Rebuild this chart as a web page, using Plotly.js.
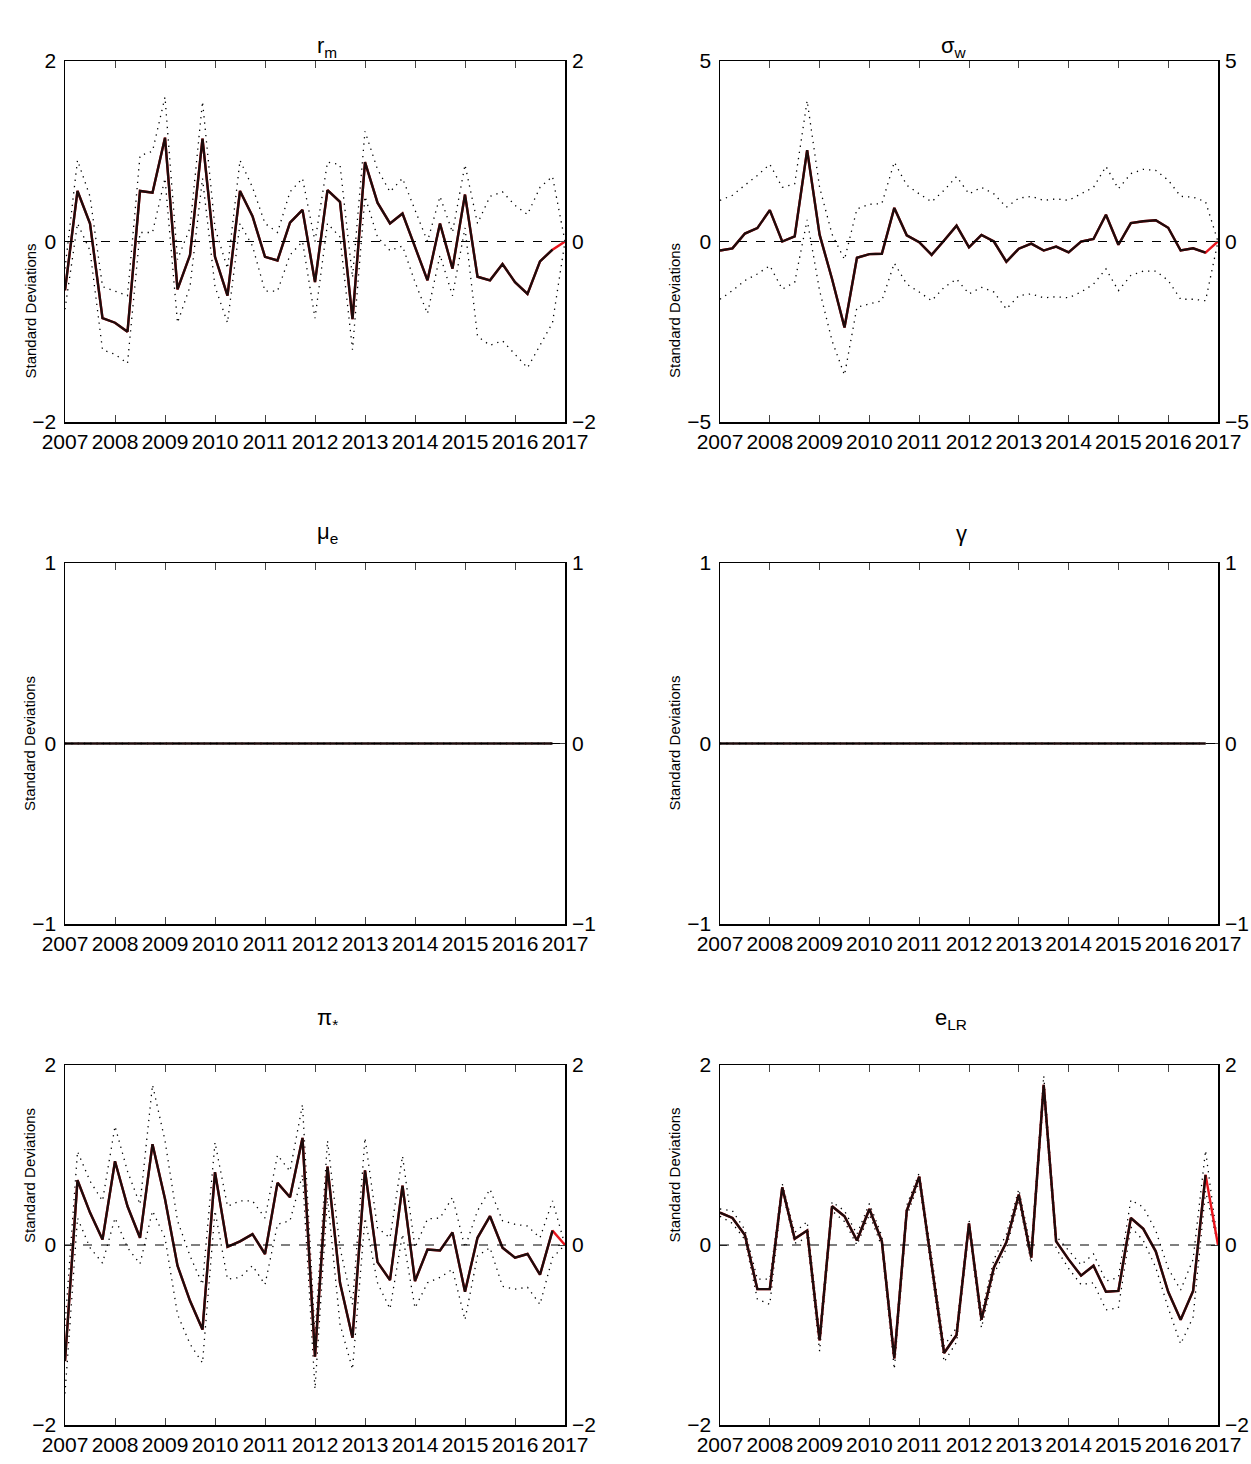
<!DOCTYPE html>
<html>
<head>
<meta charset="utf-8">
<script src="https://cdn.plot.ly/plotly-3.0.1.min.js"></script>
<style>body{margin:0;background:#fff}#chart{width:1251px;height:1464px}</style>
</head>
<body>
<div id="chart"></div>
<script>
// quarterly observations 2007Q1 .. 2017Q1
const yearTicks = [2007, 2008, 2009, 2010, 2011, 2012, 2013, 2014, 2015, 2016, 2017];

const rmMed = [-0.54, 0.56, 0.2, -0.85, -0.9, -1.0, 0.56, 0.54, 1.15, -0.53, -0.15, 1.14, -0.17, -0.6, 0.56, 0.28, -0.17, -0.21, 0.21, 0.35, -0.45, 0.57, 0.44, -0.86, 0.88, 0.43, 0.2, 0.31, -0.06, -0.43, 0.2, -0.3, 0.52, -0.39, -0.43, -0.25, -0.45, -0.58, -0.22, -0.09, 0];
const rmUp = [-0.3, 0.9, 0.5, -0.5, -0.55, -0.6, 0.95, 1.0, 1.6, -0.2, 0.15, 1.55, 0.15, -0.3, 0.9, 0.6, 0.2, 0.1, 0.55, 0.7, 0.0, 0.88, 0.85, -0.4, 1.22, 0.8, 0.55, 0.7, 0.35, 0.0, 0.5, 0.1, 0.85, 0.2, 0.5, 0.55, 0.4, 0.3, 0.6, 0.72, 0];
const rmLo = [-0.75, 0.2, -0.1, -1.2, -1.25, -1.35, 0.1, 0.1, 0.7, -0.9, -0.5, 0.7, -0.5, -0.9, 0.2, -0.05, -0.55, -0.55, -0.15, 0.0, -0.85, 0.2, 0.05, -1.2, 0.5, 0.05, -0.1, -0.05, -0.45, -0.8, -0.15, -0.6, 0.15, -1.05, -1.15, -1.1, -1.25, -1.4, -1.15, -0.9, 0];

const swMed = [-0.25, -0.19, 0.22, 0.37, 0.87, 0, 0.14, 2.53, 0.19, -1.04, -2.38, -0.45, -0.35, -0.34, 0.93, 0.17, -0.02, -0.37, 0.03, 0.44, -0.16, 0.18, 0, -0.56, -0.2, -0.06, -0.25, -0.14, -0.3, 0, 0.07, 0.74, -0.09, 0.51, 0.56, 0.59, 0.38, -0.25, -0.19, -0.31, 0];
const swUp = [1.14, 1.28, 1.56, 1.83, 2.14, 1.5, 1.6, 3.9, 1.5, 0.2, -0.5, 0.9, 1.03, 1.05, 2.2, 1.56, 1.32, 1.1, 1.42, 1.8, 1.32, 1.5, 1.32, 0.95, 1.2, 1.25, 1.14, 1.18, 1.14, 1.32, 1.5, 2.08, 1.46, 1.88, 2.0, 1.97, 1.7, 1.25, 1.23, 1.1, 0];
const swLo = [-1.6, -1.36, -1.08, -0.9, -0.67, -1.32, -1.13, 0.6, -1.36, -2.75, -3.7, -1.82, -1.73, -1.64, -0.6, -1.18, -1.4, -1.64, -1.27, -1.04, -1.45, -1.27, -1.4, -1.87, -1.5, -1.45, -1.56, -1.53, -1.56, -1.4, -1.18, -0.76, -1.36, -0.94, -0.82, -0.82, -1.08, -1.6, -1.6, -1.64, 0];

// zero-valued series for the two flat parameters, 2007Q1 .. 2016Q4
const flatZero = [0, 0, 0, 0, 0, 0, 0, 0, 0, 0, 0, 0, 0, 0, 0, 0, 0, 0, 0, 0, 0, 0, 0, 0, 0, 0, 0, 0, 0, 0, 0, 0, 0, 0, 0, 0, 0, 0, 0, 0];

const piMed = [-1.29, 0.72, 0.36, 0.06, 0.93, 0.43, 0.08, 1.12, 0.51, -0.23, -0.62, -0.94, 0.81, -0.02, 0.04, 0.12, -0.1, 0.69, 0.53, 1.19, -1.24, 0.87, -0.42, -1.03, 0.83, -0.19, -0.39, 0.66, -0.4, -0.05, -0.06, 0.14, -0.52, 0.08, 0.32, -0.03, -0.14, -0.1, -0.33, 0.16, 0];
const piUp = [-0.9, 1.04, 0.71, 0.49, 1.32, 0.82, 0.45, 1.78, 1.16, 0.27, -0.12, -0.44, 1.14, 0.43, 0.49, 0.49, 0.3, 1.0, 0.82, 1.56, -1.0, 1.16, -0.03, -0.66, 1.19, 0.19, 0.08, 0.99, -0.03, 0.29, 0.3, 0.53, -0.03, 0.38, 0.62, 0.27, 0.23, 0.21, 0.08, 0.49, 0];
const piLo = [-1.65, 0.3, -0.03, -0.2, 0.3, -0.03, -0.21, 0.38, 0.08, -0.77, -1.1, -1.31, 0.38, -0.38, -0.36, -0.23, -0.44, 0.23, 0.27, 0.78, -1.6, 0.53, -0.88, -1.38, 0.3, -0.42, -0.71, 0.12, -0.7, -0.42, -0.36, -0.27, -0.83, -0.12, -0.03, -0.46, -0.49, -0.47, -0.66, -0.14, 0];

const eMed = [0.36, 0.3, 0.11, -0.49, -0.49, 0.64, 0.07, 0.16, -1.06, 0.43, 0.32, 0.05, 0.4, 0.04, -1.26, 0.38, 0.76, -0.21, -1.2, -1.0, 0.24, -0.83, -0.25, 0.03, 0.56, -0.14, 1.78, 0.04, -0.16, -0.34, -0.23, -0.52, -0.51, 0.3, 0.18, -0.07, -0.52, -0.83, -0.51, 0.78, 0];
const eUp = [0.4, 0.38, 0.17, -0.38, -0.38, 0.68, 0.14, 0.26, -0.98, 0.48, 0.38, 0.12, 0.46, 0.1, -1.2, 0.44, 0.8, -0.12, -1.12, -0.92, 0.28, -0.76, -0.16, 0.12, 0.62, -0.05, 1.88, 0.1, -0.06, -0.22, -0.1, -0.4, -0.36, 0.5, 0.42, 0.16, -0.26, -0.5, -0.16, 1.05, 0];
const eLo = [0.32, 0.24, 0.06, -0.6, -0.66, 0.6, 0.02, 0.08, -1.18, 0.38, 0.26, 0.0, 0.34, -0.02, -1.38, 0.32, 0.7, -0.3, -1.3, -1.08, 0.18, -0.92, -0.32, -0.04, 0.5, -0.2, 1.68, -0.04, -0.26, -0.44, -0.42, -0.72, -0.7, 0.2, 0.05, -0.25, -0.7, -1.1, -0.8, 0.6, 0];

const panels = [
  {title: "r<sub>m</sub>", med: rmMed, up: rmUp, lo: rmLo, ticks: [-2, 0, 2], redTail: true},
  {title: "σ<sub>w</sub>", med: swMed, up: swUp, lo: swLo, ticks: [-5, 0, 5], redTail: true},
  {title: "μ<sub>e</sub>", med: flatZero, up: flatZero, lo: flatZero, ticks: [-1, 0, 1], redTail: false},
  {title: "γ", med: flatZero, up: flatZero, lo: flatZero, ticks: [-1, 0, 1], redTail: false},
  {title: "π<sub>*</sub>", med: piMed, up: piUp, lo: piLo, ticks: [-2, 0, 2], redTail: true},
  {title: "e<sub>LR</sub>", med: eMed, up: eUp, lo: eLo, ticks: [-2, 0, 2], redTail: true}
];

const W = 1251, H = 1464;
const colPx = [[65, 565], [720, 1218]];
const rowPx = [[61, 422], [563, 924], [1065, 1425]];
const font = "Liberation Sans, Arial, sans-serif";
const tickFont = {family: font, size: 21, color: "#000"};

const traces = [];
const layout = {
  width: W, height: H, margin: {l: 0, r: 0, t: 0, b: 0},
  paper_bgcolor: "#fff", plot_bgcolor: "#fff", showlegend: false,
  shapes: [], annotations: []
};

panels.forEach((p, i) => {
  const col = i % 2, row = Math.floor(i / 2);
  const n = i + 1, nr = i + 7;
  const xa = "x" + n, ya = "y" + n;
  const xs = p.med.map((_, k) => 2007 + k / 4);
  const yr = [p.ticks[0], p.ticks[2]];
  const dom = [1 - rowPx[row][1] / H, 1 - rowPx[row][0] / H];

  const dots = {color: "#000", width: 1.3, dash: "1.3px,5px"};
  traces.push({x: xs, y: p.up, xaxis: xa, yaxis: ya, mode: "lines", line: dots});
  traces.push({x: xs, y: p.lo, xaxis: xa, yaxis: ya, mode: "lines", line: dots});
  if (p.redTail) {
    traces.push({x: xs, y: p.med, xaxis: xa, yaxis: ya, mode: "lines",
      line: {color: "#e8141c", width: 2.4}});
  }
  const m = p.redTail ? p.med.length - 1 : p.med.length;
  traces.push({x: xs.slice(0, m), y: p.med.slice(0, m), xaxis: xa, yaxis: ya, mode: "lines",
    line: {color: "#1e0c0c", width: 2.4}});

  layout["xaxis" + n] = {
    domain: [colPx[col][0] / W, colPx[col][1] / W], anchor: ya, range: [2007, 2017],
    tickvals: yearTicks, ticktext: yearTicks.map(String), ticks: "inside", ticklen: 7,
    tickangle: 0, mirror: "ticks", showline: true, linecolor: "#000", linewidth: 1.5,
    showgrid: false, zeroline: false, tickfont: tickFont
  };
  layout["yaxis" + n] = {
    domain: dom, anchor: xa, range: yr, tickvals: p.ticks, ticks: "inside", ticklen: 7,
    mirror: "ticks", showline: true, linecolor: "#000", linewidth: 1.5, showgrid: false,
    zeroline: false, tickfont: tickFont, ticklabelstandoff: 3
  };
  layout["yaxis" + nr] = {
    domain: dom, anchor: xa, overlaying: ya, side: "right", range: yr, tickvals: p.ticks,
    ticks: "", showgrid: false, zeroline: false, showline: false,
    tickfont: tickFont, ticklabelstandoff: 6
  };
  traces.push({x: [2007], y: [0], xaxis: xa, yaxis: "y" + nr, mode: "markers",
    marker: {opacity: 0}, hoverinfo: "skip"});

  layout.shapes.push({type: "line", xref: xa, yref: ya, x0: 2007, x1: 2017, y0: 0, y1: 0,
    line: {color: "#000", width: 1.2, dash: "dash"}});

  layout.annotations.push({text: p.title, xref: "paper", yref: "paper", showarrow: false,
    x: (colPx[col][0] + colPx[col][1]) / 2 / W, y: 1 - (rowPx[row][0] - 30) / H,
    font: {family: font, size: 22, color: "#000"}});
  layout.annotations.push({text: "Standard Deviations", xref: "paper", yref: "paper",
    showarrow: false, textangle: -90, x: (colPx[col][0] - 46) / W,
    y: (dom[0] + dom[1]) / 2, font: {family: font, size: 15, color: "#000"}});
});

Plotly.newPlot("chart", traces, layout, {displayModeBar: false, staticPlot: true});
</script>
</body>
</html>
